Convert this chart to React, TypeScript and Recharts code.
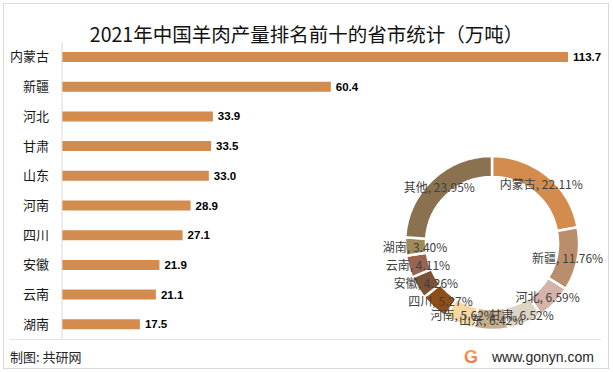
import React from 'react';
import { BarChart, Bar, XAxis, YAxis, LabelList, PieChart, Pie, Cell } from 'recharts';

const provinces = ['内蒙古', '新疆', '河北', '甘肃', '山东', '河南', '四川', '安徽', '云南', '湖南'];
const output = [113.7, 60.4, 33.9, 33.5, 33.0, 28.9, 27.1, 21.9, 21.1, 17.5];

const shareNames = ['内蒙古', '新疆', '河北', '甘肃', '山东', '河南', '四川', '安徽', '云南', '湖南', '其他'];
const shares = [22.11, 11.76, 6.59, 6.52, 6.42, 5.62, 5.27, 4.26, 4.11, 3.40, 23.95];
const shareColors = ['#D38B4E', '#BA8E6C', '#D4B4A9', '#DDD5C3', '#C6AE8E', '#F6D8A0', '#8E4E18', '#7A5234', '#9A6453', '#9F8A5B', '#8A7150'];

const barData = provinces.map((p, i) => ({ name: p, value: output[i] }));
const pieData = shareNames.map((n, i) => ({ name: n, value: shares[i] }));

const CJK = '"Noto Sans CJK SC", "Noto Sans", sans-serif';
const RAD = Math.PI / 180;

const renderPieLabel = (props: any) => {
  const { cx, cy, midAngle, name, value } = props;
  const r = 77;
  const x = cx + r * Math.cos(-midAngle * RAD);
  const y = cy + r * Math.sin(-midAngle * RAD);
  return (
    <text x={x} y={y} textAnchor="middle" dominantBaseline="central" fontSize={12} fill="#404040" fontFamily={CJK}>
      {`${name}, ${Number(value).toFixed(2)}%`}
    </text>
  );
};

export default function App() {
  return (
    <div style={{ position: 'absolute', left: 0, top: 0, width: 613, height: 372, background: '#fff', overflow: 'hidden' }}>
      <div style={{ position: 'absolute', left: 3, top: 3, width: 604, height: 364, border: '1px solid #d9d9d9' }} />
      <div style={{ position: 'absolute', left: 0, top: 21, width: 613, textAlign: 'center', fontFamily: CJK, fontSize: 19.5, lineHeight: '26px', color: '#111' }}>
        2021年中国羊肉产量排名前十的省市统计（万吨）
      </div>
      <div style={{ position: 'absolute', left: 0, top: 0 }}>
        <BarChart width={613} height={372} layout="vertical" data={barData} margin={{ top: 42, right: 45, bottom: 33, left: 7 }} barSize={10}>
          <XAxis type="number" domain={[0, 113.7]} hide />
          <YAxis
            type="category"
            dataKey="name"
            width={55}
            axisLine={{ stroke: '#d9d9d9' }}
            tickLine={false}
            tickSize={6}
            tickMargin={7}
            tick={{ fontSize: 13, fill: '#1a1a1a', fontFamily: CJK }}
          />
          <Bar dataKey="value" fill="#D38B4E" isAnimationActive={false}>
            <LabelList dataKey="value" position="right" offset={5} formatter={(v: any) => Number(v).toFixed(1)} style={{ fontSize: 11.5, fontWeight: 'bold', fill: '#000', fontFamily: '"Liberation Sans", Arial, sans-serif' }} />
          </Bar>
        </BarChart>
      </div>
      <div style={{ position: 'absolute', left: 0, top: 0 }}>
        <PieChart width={613} height={372}>
          <Pie
            data={pieData}
            dataKey="value"
            nameKey="name"
            cx={487}
            cy={238}
            innerRadius={66}
            outerRadius={87}
            startAngle={90}
            endAngle={-270}
            stroke="#fff"
            strokeWidth={2.5}
            label={renderPieLabel}
            labelLine={false}
            isAnimationActive={false}
          >
            {pieData.map((d, i) => (
              <Cell key={d.name} fill={shareColors[i]} />
            ))}
          </Pie>
        </PieChart>
      </div>
      <div style={{ position: 'absolute', left: 10, top: 339, width: 591, height: 1, background: '#e3e3e3' }} />
      <div style={{ position: 'absolute', left: 10, top: 348, fontFamily: CJK, fontSize: 13, lineHeight: '18px', color: '#262626' }}>
        制图: 共研网
      </div>
      <svg style={{ position: 'absolute', left: 461, top: 347 }} width={20} height={20}>
        <defs>
          <linearGradient id="lg" x1="0" y1="0" x2="0" y2="1">
            <stop offset="0%" stopColor="#F9A64A" />
            <stop offset="100%" stopColor="#EE6A4A" />
          </linearGradient>
        </defs>
        <text x={10} y={16} textAnchor="middle" fontSize={18} fontWeight="bold" fill="url(#lg)" fontFamily='"Liberation Sans", Arial, sans-serif'>G</text>
      </svg>
      <div style={{ position: 'absolute', left: 492, top: 348, fontFamily: '"Liberation Sans", Arial, sans-serif', fontSize: 14, lineHeight: '18px', color: '#262626' }}>
        www.gonyn.com
      </div>
    </div>
  );
}
